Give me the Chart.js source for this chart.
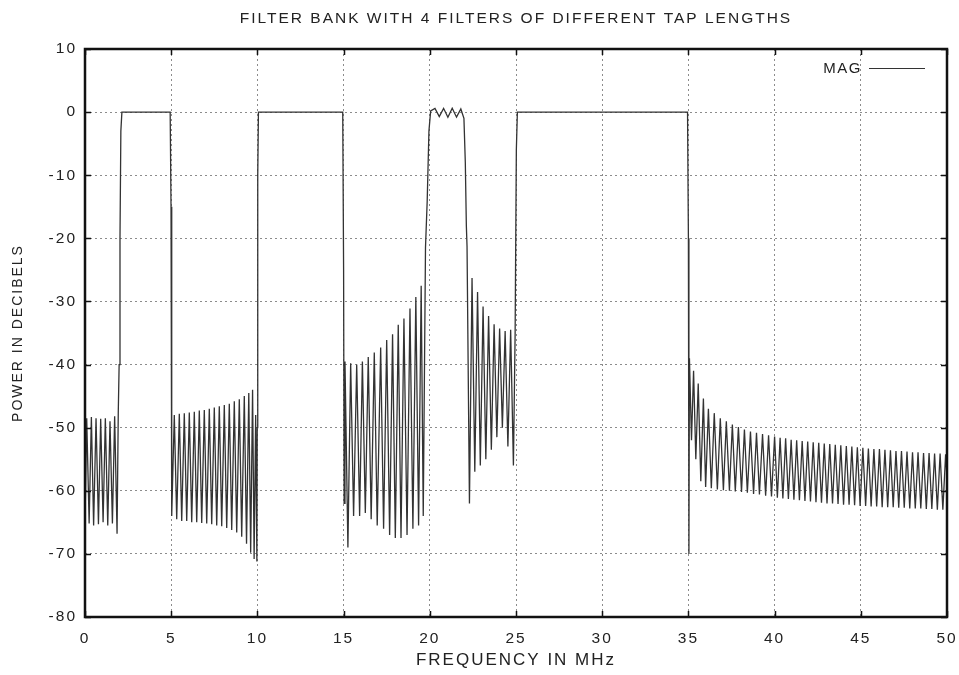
<!DOCTYPE html>
<html>
<head>
<meta charset="utf-8">
<script src="https://cdn.jsdelivr.net/npm/chart.js@4.4.1/dist/chart.umd.min.js"></script>
<style>
  html, body { margin: 0; padding: 0; background: #fff; }
  #wrap { width: 959px; height: 675px; }
</style>
</head>
<body>
<div id="wrap"><canvas id="filterChart" width="959" height="675"></canvas></div>
<script>
// axis ticks
var freqTicks = [0, 5, 10, 15, 20, 25, 30, 35, 40, 45, 50];
var dbTicks = [-80, -70, -60, -50, -40, -30, -20, -10, 0, 10];

// stopband 0-2 MHz
var stop1Freq = [0, 0.02, 0.1, 0.24, 0.37, 0.5, 0.64, 0.78, 0.91, 1.05, 1.18, 1.32, 1.45, 1.59, 1.72, 1.86, 1.93];
var stop1Db = [-49, -62, -48.5, -65.2, -48.3, -65.5, -48.5, -65.3, -48.6, -65, -48.5, -65.5, -49, -65.2, -48.2, -66.8, -47.5];

// passband 2-5 MHz
var pass1Freq = [1.98, 2.03, 2.08, 2.14, 4.94, 4.99, 5.03];
var pass1Db = [-40, -20, -3, 0, 0, -15, -64];

// stopband 5-10 MHz
var stop2Freq = [5.18, 5.32, 5.47, 5.61, 5.76, 5.9, 6.05, 6.19, 6.34, 6.48, 6.63, 6.77, 6.92, 7.06, 7.21, 7.35, 7.5, 7.64,
  7.79, 7.93, 8.08, 8.22, 8.37, 8.51, 8.66, 8.8, 8.95, 9.09, 9.24, 9.37, 9.5, 9.61, 9.72, 9.81, 9.9, 9.97];
var stop2Db = [-48, -64.5, -47.8, -64.8, -47.7, -64.8, -47.6, -65, -47.5, -65, -47.3, -65.1, -47.2, -65.2, -47, -65.3, -46.8, -65.5,
  -46.6, -65.6, -46.4, -65.9, -46.2, -66.2, -45.8, -66.6, -45.5, -67.3, -45, -68.4, -44.5, -69.8, -44, -70.8, -48, -71.2];

// passband 10-15 MHz
var pass2Freq = [9.99, 10.02, 10.06, 14.95, 15.0, 15.03];
var pass2Db = [-50, -10, 0, 0, -25, -62];

// stopband 15-20 MHz
var stop3Freq = [15.08, 15.25, 15.41, 15.58, 15.76, 15.93, 16.09, 16.26, 16.43, 16.6, 16.78, 16.95, 17.15, 17.32, 17.5,
  17.67, 17.84, 18.0, 18.17, 18.33, 18.5, 18.68, 18.85, 19.02, 19.19, 19.35, 19.5, 19.62, 19.75];
var stop3Db = [-39.5, -69, -39.8, -64, -40, -64, -39.5, -63.5, -38.8, -64.5, -38.1, -65.5, -37.3, -66, -36.1,
  -67, -35.2, -67.5, -33.7, -67.5, -32.7, -67, -31.1, -66, -29.3, -65.5, -27.5, -64, -21.5];

// passband 20-22 MHz (rippled)
var pass3Freq = [19.85, 19.95, 20.05, 20.3, 20.55, 20.8, 21.05, 21.3, 21.55, 21.8, 21.98, 22.06, 22.12];
var pass3Db = [-14, -3, 0.2, 0.6, -0.7, 0.6, -0.8, 0.6, -0.8, 0.5, -1, -8, -18];

// stopband 22-25 MHz
var stop4Freq = [22.16, 22.3, 22.45, 22.61, 22.77, 22.93, 23.09, 23.25, 23.41, 23.57, 23.73, 23.89, 24.05, 24.21, 24.37, 24.53, 24.69, 24.85];
var stop4Db = [-21.3, -62, -26.3, -57, -28.5, -56, -30.8, -55, -32.3, -53.5, -33.6, -51.5, -34.3, -50, -34.7, -53, -34.5, -56];

// passband 25-35 MHz
var pass4Freq = [24.95, 25.02, 25.08, 34.95, 35.0, 35.03];
var pass4Db = [-35, -6, 0, 0, -20, -70];

// stopband 35-50 MHz
var stop5Freq = [35.06, 35.18, 35.3, 35.43, 35.57, 35.72, 35.87, 36.0, 36.16, 36.33, 36.5, 36.68, 36.85, 37.03, 37.2, 37.38,
  37.55, 37.72, 37.9, 38.08, 38.25, 38.42, 38.6, 38.78, 38.95, 39.12, 39.3, 39.48, 39.65, 39.82, 40.0, 40.16, 40.32, 40.48,
  40.64, 40.8, 40.96, 41.12, 41.28, 41.44, 41.6, 41.76, 41.92, 42.08, 42.24, 42.4, 42.56, 42.72, 42.88, 43.04, 43.2, 43.36,
  43.52, 43.68, 43.84, 44.0, 44.16, 44.32, 44.48, 44.64, 44.8, 44.96, 45.12, 45.28, 45.44, 45.6, 45.76, 45.92, 46.08, 46.24,
  46.4, 46.56, 46.72, 46.88, 47.04, 47.2, 47.36, 47.52, 47.68, 47.84, 48.0, 48.16, 48.32, 48.48, 48.64, 48.8, 48.96, 49.12,
  49.28, 49.44, 49.6, 49.76, 49.92, 50];
var stop5Db = [-39, -52, -41, -55, -43, -58.5, -45.4, -59.4, -47, -59.6, -47.7, -59.8, -48.5, -59.9, -49, -60,
  -49.5, -60.1, -49.9, -60.2, -50.3, -60.3, -50.6, -60.5, -50.8, -60.6, -51, -60.8, -51.2, -60.9, -51.4, -61.1, -51.6, -61.2,
  -51.7, -61.3, -51.9, -61.4, -52, -61.5, -52.1, -61.6, -52.2, -61.7, -52.3, -61.8, -52.4, -61.9, -52.5, -62, -52.6, -62,
  -52.7, -62.1, -52.8, -62.2, -52.9, -62.2, -53, -62.3, -53.1, -62.4, -53.2, -62.4, -53.3, -62.5, -53.4, -62.5, -53.4, -62.6,
  -53.5, -62.6, -53.6, -62.6, -53.7, -62.7, -53.7, -62.7, -53.8, -62.8, -53.9, -62.8, -53.9, -62.8, -54, -62.9, -54, -62.9,
  -54.1, -63, -54.1, -63, -54.2, -58];

// join segments into one trace
var freqParts = [stop1Freq, pass1Freq, stop2Freq, pass2Freq, stop3Freq, pass3Freq, stop4Freq, pass4Freq, stop5Freq];
var dbParts = [stop1Db, pass1Db, stop2Db, pass2Db, stop3Db, pass3Db, stop4Db, pass4Db, stop5Db];
var magPoints = [];
freqParts.forEach(function(f, k) {
  f.forEach(function(v, i) { magPoints.push({x: v, y: dbParts[k][i]}); });
});

var textFont = "'Liberation Sans', Arial, sans-serif";

// frame, inner tick marks and the MAG key
var framePlugin = {
  id: 'frame',
  beforeDraw: function(chart) {
    chart.ctx.letterSpacing = '2px';
  },
  afterDraw: function(chart) {
    var ctx = chart.ctx, a = chart.chartArea;
    var xs = chart.scales.x, ys = chart.scales.y;
    ctx.save();
    ctx.letterSpacing = '0px';
    ctx.strokeStyle = '#111';
    ctx.lineWidth = 1.5;
    freqTicks.forEach(function(t) {
      var px = Math.round(xs.getPixelForValue(t)) + 0.5;
      ctx.beginPath();
      ctx.moveTo(px, a.bottom); ctx.lineTo(px, a.bottom - 6);
      ctx.moveTo(px, a.top); ctx.lineTo(px, a.top + 6);
      ctx.stroke();
    });
    dbTicks.forEach(function(t) {
      var py = Math.round(ys.getPixelForValue(t)) + 0.5;
      ctx.beginPath();
      ctx.moveTo(a.left, py); ctx.lineTo(a.left + 6, py);
      ctx.moveTo(a.right, py); ctx.lineTo(a.right - 6, py);
      ctx.stroke();
    });
    ctx.lineWidth = 2.5;
    ctx.strokeRect(a.left, a.top, a.right - a.left, a.bottom - a.top);

    // key
    var ds = chart.data.datasets[0];
    ctx.letterSpacing = '1.5px';
    ctx.fillStyle = '#222';
    ctx.font = '15px ' + textFont;
    ctx.textAlign = 'right';
    ctx.textBaseline = 'middle';
    ctx.fillText(ds.label, a.right - 85, a.top + 20);
    ctx.strokeStyle = ds.borderColor;
    ctx.lineWidth = 1;
    ctx.beginPath();
    ctx.moveTo(a.right - 78, a.top + 19.5);
    ctx.lineTo(a.right - 22, a.top + 19.5);
    ctx.stroke();
    ctx.restore();
  }
};

var ctx = document.getElementById('filterChart');

var chart = new Chart(ctx, {
  type: 'line',
  data: {
    datasets: [{
      label: 'MAG',
      data: magPoints,
      borderColor: '#333',
      borderWidth: 1.3,
      pointRadius: 0,
      tension: 0,
      fill: false
    }]
  },
  options: {
    responsive: false,
    animation: false,
    devicePixelRatio: 1,
    layout: { padding: { left: 0, right: 12, top: 0, bottom: 0 } },
    plugins: {
      legend: { display: false },
      tooltip: { enabled: false },
      title: {
        display: true,
        fullSize: false,
        text: 'FILTER BANK WITH 4 FILTERS OF DIFFERENT TAP LENGTHS',
        color: '#222',
        font: { family: textFont, size: 15.5, weight: 'normal' },
        padding: { top: 9, bottom: 21.4 }
      }
    },
    scales: {
      x: {
        type: 'linear',
        min: 0,
        max: 50,
        afterFit: function(s) { s.height = 58; s.paddingLeft = 0; s.paddingRight = 0; },
        afterBuildTicks: function(s) { s.ticks = freqTicks.map(function(v) { return {value: v}; }); },
        ticks: { color: '#222', padding: 12, autoSkip: false, font: { family: textFont, size: 15.5 } },
        grid: { color: '#8c8c8c', lineWidth: 1, drawTicks: false },
        border: { display: false, dash: [2, 3] },
        title: {
          display: true,
          text: 'FREQUENCY IN MHz',
          color: '#222',
          font: { family: textFont, size: 17 },
          padding: { top: 0, bottom: 4 }
        }
      },
      y: {
        type: 'linear',
        min: -80,
        max: 10,
        afterFit: function(s) { s.width = 85; s.paddingTop = 0; s.paddingBottom = 0; },
        afterBuildTicks: function(s) { s.ticks = dbTicks.map(function(v) { return {value: v}; }); },
        ticks: { color: '#222', padding: 8, font: { family: textFont, size: 15.5 } },
        grid: { color: '#8c8c8c', lineWidth: 1, drawTicks: false },
        border: { display: false, dash: [2, 3] },
        title: {
          display: true,
          text: 'POWER IN DECIBELS',
          color: '#222',
          font: { family: textFont, size: 14 },
          padding: { top: 10, bottom: 0 }
        }
      }
    }
  },
  plugins: [framePlugin]
});
</script>
</body>
</html>
